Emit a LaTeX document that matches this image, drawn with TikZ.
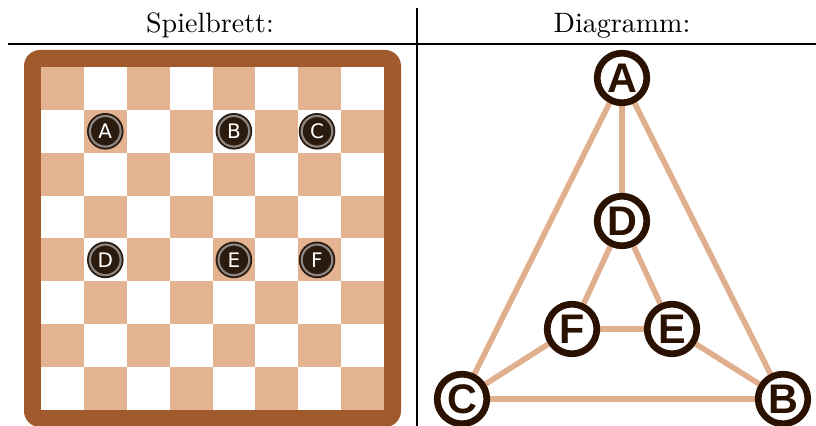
\documentclass[tikz,border=0pt]{standalone}
\usepackage{fontspec}
\newfontfamily\vertexfont{Liberation Sans}
\newfontfamily\stonefont{DejaVu Sans}
\usepackage{tikz}
\usetikzlibrary{backgrounds}
\definecolor{BoardFrame}{RGB}{160,90,44}
\definecolor{BoardLight}{RGB}{227,179,146}
\definecolor{StoneDark}{RGB}{43,26,14}
\definecolor{StoneRing}{RGB}{140,135,130}
\definecolor{VertexDark}{RGB}{43,17,0}
\definecolor{EdgeLight}{RGB}{224,176,142}

\tikzset{
  stone/.style={circle,fill=StoneDark,draw=StoneDark,double=StoneRing,
    double distance=0.8pt,line width=0.7pt,minimum size=11.5pt,inner sep=0pt,
    text=white,font=\stonefont\fontsize{7.5}{8}\selectfont},
  vertex/.style={circle,draw=VertexDark,line width=2.5pt,fill=white,
    minimum size=18.6pt,inner sep=0pt,text=VertexDark,
    font=\vertexfont\bfseries\fontsize{15.5}{17}\selectfont},
  link/.style={draw=EdgeLight,line width=2.1pt}
}

\begin{document}
\begin{tikzpicture}[x=0.375pt,y=-0.375pt]
  \useasboundingbox (0,0) rectangle (816,426);

  % table
  \node[anchor=base,font=\fontsize{10.5}{12}\selectfont] (hBoard) at (210,33) {Spielbrett:};
  \node[anchor=base,font=\fontsize{10.5}{12}\selectfont] (hGraph) at (622,33) {Diagramm:};
  \draw[line width=0.4pt] (8,44) -- (816,44);
  \draw[line width=0.4pt] (417,8) -- (417,426);

  % board
  \fill[BoardFrame,rounded corners=6pt] (24,50) rectangle (401,427);
  \fill[white] (41,67) rectangle (384,410);
  \foreach \r in {0,...,7}
    \foreach \c in {0,2,4,6} {
      \pgfmathsetmacro\sx{41+42.875*(\c+mod(\r,2))}
      \pgfmathsetmacro\sy{67+42.875*\r}
      \fill[BoardLight] (\sx,\sy) rectangle ++(42.875,42.875);
    }
  \node[stone] (sA) at (105.3,131.3) {A};
  \node[stone] (sB) at (233.9,131.3) {B};
  \node[stone] (sC) at (317,131.3) {C};
  \node[stone] (sD) at (105.3,259.9) {D};
  \node[stone] (sE) at (233.9,259.9) {E};
  \node[stone] (sF) at (317,259.9) {F};

  % graph
  \node[vertex] (A) at (622,78) {A};
  \node[vertex] (D) at (622,221) {D};
  \node[vertex] (F) at (572,329) {F};
  \node[vertex] (E) at (672,329) {E};
  \node[vertex] (C) at (462,399) {C};
  \node[vertex] (B) at (783,399) {B};
  \begin{scope}[on background layer]
    \draw[link] (A) -- (D);
    \draw[link] (A) -- (C);
    \draw[link] (A) -- (B);
    \draw[link] (D) -- (F);
    \draw[link] (D) -- (E);
    \draw[link] (F) -- (E);
    \draw[link] (F) -- (C);
    \draw[link] (E) -- (B);
    \draw[link] (C) -- (B);
  \end{scope}
\end{tikzpicture}
\end{document}
